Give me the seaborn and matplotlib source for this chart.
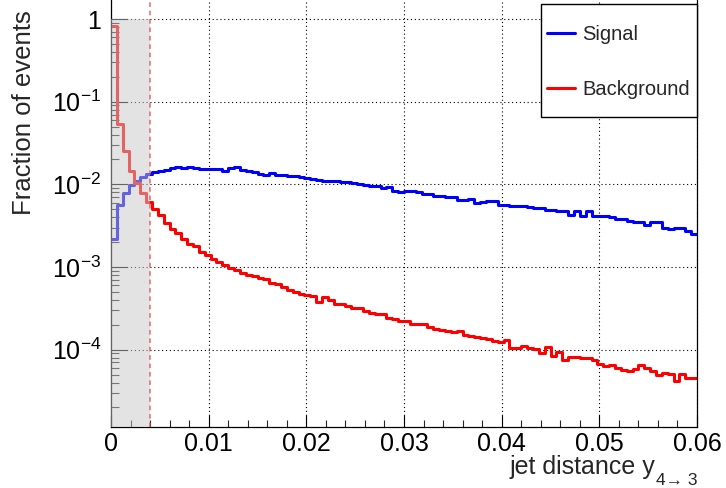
import matplotlib
matplotlib.use("Agg")
import matplotlib.pyplot as plt
import numpy as np
import pandas as pd
import seaborn as sns
from matplotlib.lines import Line2D
from matplotlib.patches import Rectangle
from matplotlib.ticker import MultipleLocator, LogLocator, FixedLocator, FixedFormatter, NullFormatter

# 100 bins of width 0.0006 between 0 and 0.06
n_bins = 100
x_min, x_max = 0.0, 0.06

signal = [
    0.0022, 0.0056, 0.0078, 0.0097, 0.0109, 0.0122, 0.0133, 0.0141, 0.0147, 0.0151,
    0.0158, 0.0162, 0.0158, 0.0162, 0.0158, 0.0155, 0.0155, 0.0155, 0.0155, 0.0147,
    0.0158, 0.0162, 0.0151, 0.0144, 0.0141, 0.0133, 0.0131, 0.0137, 0.0131, 0.0128,
    0.0125, 0.0125, 0.0122, 0.0119, 0.0117, 0.0114, 0.0111, 0.0111, 0.0109, 0.0107,
    0.0106, 0.0104, 0.0102, 0.0099, 0.0096, 0.0095, 0.0090, 0.0093, 0.0084, 0.0080,
    0.0084, 0.0082, 0.0080, 0.0077, 0.0077, 0.0073, 0.0073, 0.0070, 0.0070, 0.0065,
    0.0065, 0.0066, 0.0059, 0.0062, 0.0063, 0.0063, 0.0056, 0.0056, 0.0055, 0.0054,
    0.0054, 0.0053, 0.0052, 0.0052, 0.0049, 0.0049, 0.0047, 0.0047, 0.0043, 0.0048,
    0.0042, 0.0047, 0.0042, 0.0041, 0.0041, 0.0040, 0.0038, 0.0038, 0.0036, 0.0035,
    0.0035, 0.0032, 0.0035, 0.0035, 0.0030, 0.0029, 0.0030, 0.0030, 0.0027, 0.0025,
]

background = [
    0.82, 0.053, 0.025, 0.0147, 0.0104, 0.0078, 0.0061, 0.0051, 0.0043, 0.0034,
    0.0029, 0.0026, 0.0022, 0.0019, 0.0018, 0.0015, 0.00139, 0.00126, 0.00115, 0.00105,
    0.00097, 0.00091, 0.00085, 0.00081, 0.00078, 0.000734, 0.000708, 0.000644, 0.000626, 0.00057,
    0.00052, 0.000496, 0.000473, 0.00046, 0.000443, 0.000381, 0.000431, 0.000404, 0.000357, 0.000357,
    0.000341, 0.000322, 0.000316, 0.000296, 0.000277, 0.00027, 0.00027, 0.000245, 0.000234, 0.000224,
    0.000224, 0.000205, 0.000203, 0.000203, 0.00019, 0.00018, 0.000175, 0.000166, 0.000162, 0.00017,
    0.00015, 0.000147, 0.000142, 0.00014, 0.000134, 0.000128, 0.000124, 0.000131, 0.000106, 0.000106,
    0.000111, 0.000106, 0.000101, 0.000092, 0.000108, 0.000084, 0.000093, 0.000075, 0.000081, 0.000081,
    0.00008, 0.00008, 0.000075, 0.000068, 0.000063, 0.000066, 0.00006, 0.000057, 0.000055, 0.000058,
    0.000066, 0.00006, 0.000055, 0.000049, 0.000052, 0.000051, 0.000042, 0.000051, 0.000046, 0.000045,
]

cut_value = 0.004
legend_labels = ["Signal", "Background"]
xtick_values = [0.0, 0.01, 0.02, 0.03, 0.04, 0.05, 0.06]
xtick_labels = ["0", "0.01", "0.02", "0.03", "0.04", "0.05", "0.06"]
ytick_values = [1e-4, 1e-3, 1e-2, 1e-1, 1.0]
ytick_labels = ["$10^{-4}$", "$10^{-3}$", "$10^{-2}$", "$10^{-1}$", "1"]

sns.set_style("white")
plt.rcParams["font.family"] = ["Liberation Sans", "DejaVu Sans"]
plt.rcParams["mathtext.fontset"] = "custom"
plt.rcParams["mathtext.rm"] = "Liberation Sans"
plt.rcParams["mathtext.it"] = "Liberation Sans:italic"
plt.rcParams["mathtext.default"] = "regular"

bin_w = (x_max - x_min) / n_bins
centers = x_min + bin_w * (np.arange(n_bins) + 0.5)
df = pd.DataFrame({
    "x": np.concatenate([centers, centers]),
    "w": signal + background,
    "sample": ["Signal"] * n_bins + ["Background"] * n_bins,
})

fig = plt.figure(figsize=(7.26, 4.88), dpi=100)
ax = fig.add_axes([111 / 726, 1 - 427 / 488, (697 - 111) / 726, 427 / 488])
ax.set_yscale("log")

sns.histplot(data=df, x="x", weights="w", hue="sample", hue_order=["Background", "Signal"],
             bins=n_bins, binrange=(x_min, x_max), element="step", fill=False,
             palette={"Signal": "blue", "Background": "red"},
             linewidth=2.2, legend=False, ax=ax)

y_lo, y_hi = 1.16e-5, 1.70
ax.set_xlim(x_min, x_max)
ax.set_ylim(y_lo, y_hi)

# shaded cut region
ax.fill_between([x_min, cut_value], y_lo, 1.0, color="#c8c8c8", alpha=0.5, lw=0, zorder=3)
ax.axvline(cut_value, color="#e04848", lw=1.1, ls=(0, (3, 2.5)), alpha=0.8, zorder=4)

ax.grid(True, which="major", color="black", ls=(0, (1, 2.5)), lw=0.8)
ax.set_axisbelow(True)

ax.xaxis.set_major_locator(FixedLocator(xtick_values))
ax.xaxis.set_major_formatter(FixedFormatter(xtick_labels))
ax.xaxis.set_minor_locator(MultipleLocator(0.002))
ax.yaxis.set_major_locator(FixedLocator(ytick_values))
ax.yaxis.set_major_formatter(FixedFormatter(ytick_labels))
ax.yaxis.set_minor_locator(LogLocator(base=10, subs=np.arange(2, 10), numticks=20))
ax.yaxis.set_minor_formatter(NullFormatter())

ax.tick_params(axis="x", which="major", direction="in", length=8.6, width=0.8, labelsize=18,
               pad=3.5, bottom=True, top=False, colors="black")
ax.tick_params(axis="x", which="minor", direction="in", length=4.7, width=0.8, bottom=True, top=False)
ax.tick_params(axis="y", which="major", direction="in", length=11.5, width=0.8, labelsize=18,
               pad=7, left=True, right=False, colors="black")
ax.tick_params(axis="y", which="minor", direction="in", length=5.8, width=0.8, left=True, right=False)

for side in ["left", "bottom", "right"]:
    ax.spines[side].set_color("black")
    ax.spines[side].set_linewidth(0.9)
ax.spines["top"].set_visible(False)

ax.set_xlabel("")
ax.set_ylabel("")

# x title with a ROOT-like subscript, placed as two texts
renderer = fig.canvas.get_renderer()
sub = fig.text(697 / 726, 1 - 485 / 488, "4\u2192 3", ha="right", va="baseline", fontsize=12.5)
sub_left = sub.get_window_extent(renderer).x0
fig.text(sub_left / 726 - 0.5 / 726, 1 - 474 / 488, "jet distance y", ha="right", va="baseline", fontsize=18)
fig.text(24 / 726, 1 - 10 / 488, "Fraction of events", rotation=90, ha="center", va="top", fontsize=18.5)

# legend box
fig.patches.append(Rectangle((541 / 726, 1 - 117 / 488), 156 / 726, 113 / 488, transform=fig.transFigure,
                             facecolor="white", edgecolor="black", lw=1.0, zorder=2))
handles = [Line2D([], [], color="blue", lw=2.2), Line2D([], [], color="red", lw=2.2)]
fig.legend(handles, legend_labels, loc="upper left", bbox_to_anchor=(547 / 726, 1 - 25 / 488),
           frameon=False, fontsize=14.5, handlelength=1.4, handletextpad=0.35,
           labelspacing=1.8, borderpad=0, borderaxespad=0)

fig.savefig("out.png", dpi=100)
